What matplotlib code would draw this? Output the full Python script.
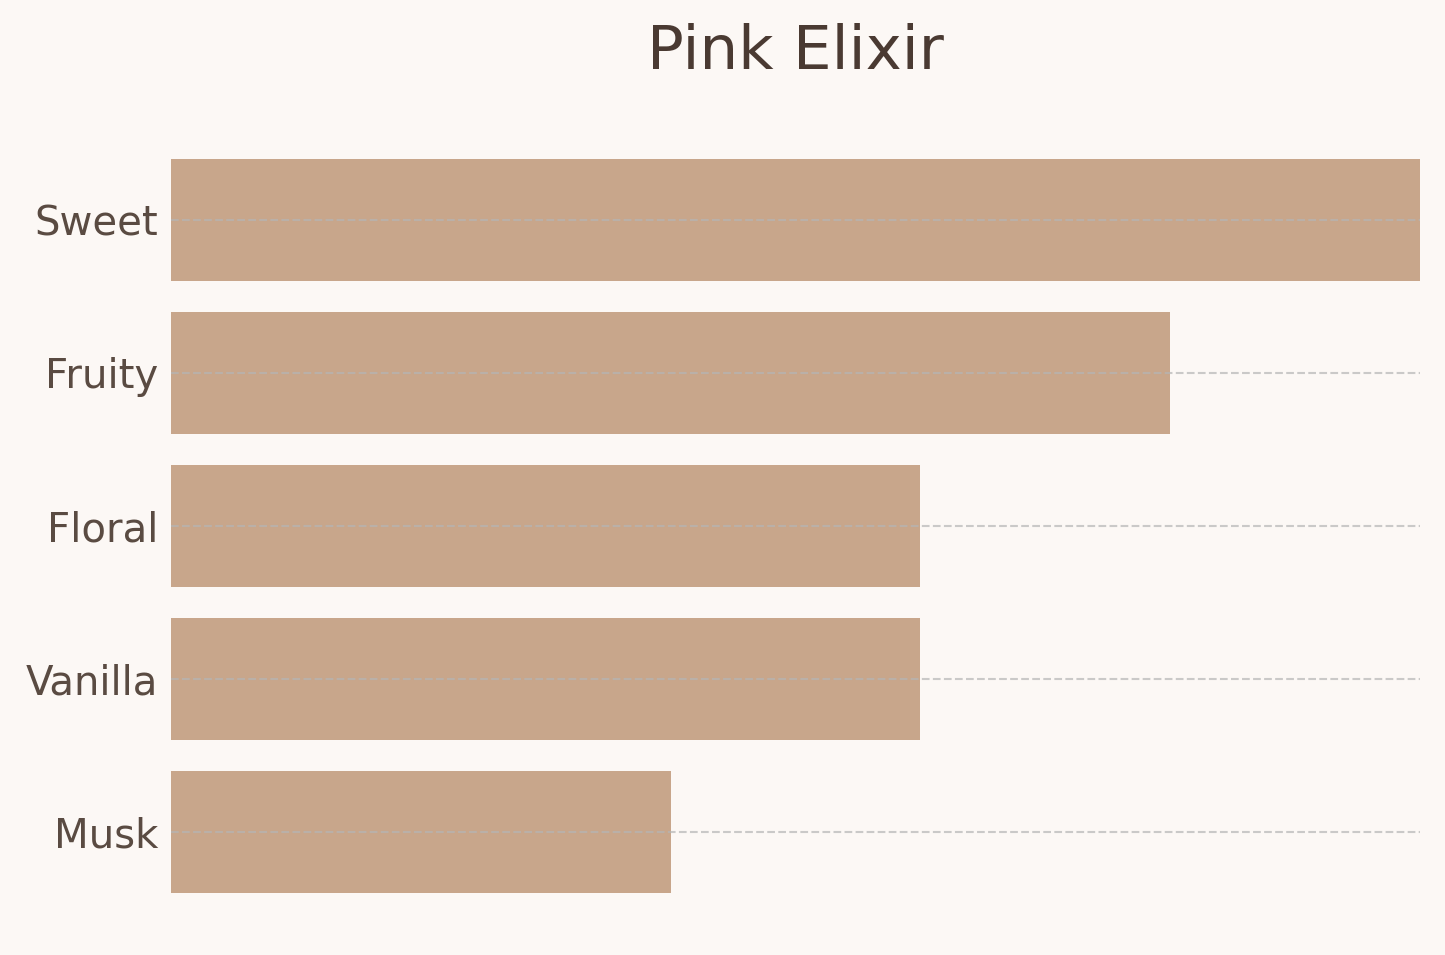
import matplotlib
matplotlib.use("Agg")
import matplotlib.pyplot as plt

# accord strengths for the perfume
notes = ["Sweet", "Fruity", "Floral", "Vanilla", "Musk"]
strength = [5, 4, 3, 3, 2]

bg = "#fcf8f5"
bar_color = "#c8a68b"

fig, ax = plt.subplots(figsize=(14.45, 9.55), dpi=100)
fig.patch.set_facecolor(bg)
ax.set_facecolor(bg)
plt.subplots_adjust(left=0.1183, right=0.9827, top=0.8723, bottom=0.026)

ax.barh(notes, strength, height=0.8, color=bar_color)
ax.invert_yaxis()
ax.set_xlim(0, max(strength))

# dashed guide lines, drawn over the bars
ax.yaxis.grid(True, linestyle="--", linewidth=1.5, color="#b5b5b5", alpha=0.7)
ax.xaxis.grid(False)

for s in ax.spines.values():
    s.set_visible(False)
ax.set_xticks([])
ax.tick_params(axis="y", length=0, pad=9, labelsize=29, labelcolor="#5a4b42")

ax.set_title("Pink Elixir", fontsize=44, color="#4a3a32", pad=38)

plt.savefig("out.png", dpi=100, facecolor=bg)
